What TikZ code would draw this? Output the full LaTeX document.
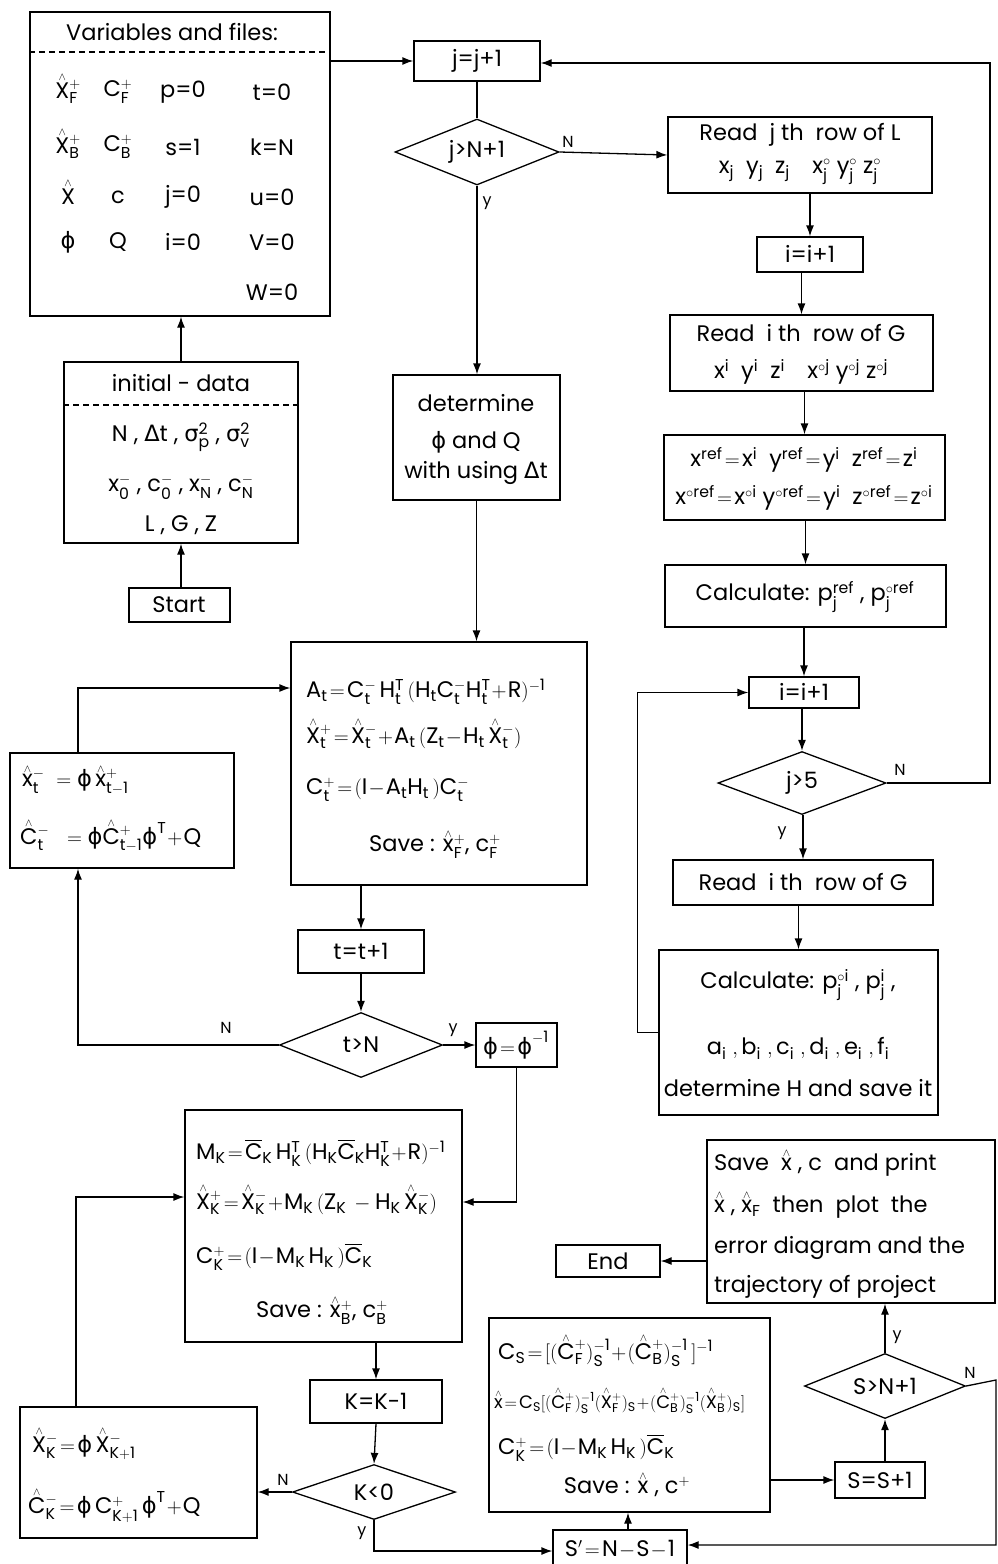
\documentclass[tikz,border=0pt]{standalone}
\usepackage{amsmath}
\usepackage{fontspec}
\setmainfont{Poppins}
\setsansfont{Poppins}
\newfontfamily\dv{DejaVu Sans}
\usetikzlibrary{shapes.geometric,arrows.meta,fit}
\newcommand\mm[1]{$\mathrm{#1}$}
\newcommand\ph{\mbox{\dv ϕ}}
\newcommand\Dt{{\dv Δ}t}
\newcommand\sg{\mbox{\dv σ}}
\newcommand\hh[1]{\mbox{\ooalign{#1\cr\hidewidth\smash{\raisebox{0.8em}{$\scriptscriptstyle\wedge$}}\hidewidth\cr}}}
\newcommand\hl[1]{\mbox{\ooalign{#1\cr\hidewidth\smash{\raisebox{0.62em}{$\scriptscriptstyle\wedge$}}\hidewidth\cr}}}
\newcommand\bb[1]{{\overline{#1}}}
\newcommand\vto[2]{\draw[arr] (#2.north |- #1.south) -- (#2.north);}
\tikzset{
  bx/.style={draw, line width=1.3pt, inner sep=0pt},
  dia/.style={draw, diamond, line width=1.3pt, inner sep=0pt},
  txt/.style={inner sep=0pt},
  lab/.style={inner sep=0pt, font=\fontsize{16}{18}\selectfont},
  arr/.style={-{Latex[length=11pt,width=8pt]}, line width=1.3pt},
  ln/.style={line width=1.3pt},
  dsh/.style={line width=1.3pt, dash pattern=on 6pt off 4pt},
}
\begin{document}
\begin{tikzpicture}[x=1pt,y=-1pt,font=\fontsize{22.5}{26}\selectfont]
\useasboundingbox (0,0) rectangle (997,1564);
% ---------- variables box
\node[bx, fit={(30,12) (330,316)}] (var) {};
\node[txt] (vt) at (172,32) {Variables and files:};
\draw[dsh] (var.west |- 0,52) -- (var.east |- 0,52);
\node[txt] (v11) at (68,92) {\mm{\hh{X}^{+}_{F}}};
\node[txt] (v12) at (118,92) {\mm{C^{+}_{F}}};
\node[txt] (v13) at (183,92) {p=0};
\node[txt] (v14) at (272,92) {t=0};
\node[txt] (v21) at (68,147) {\mm{\hh{X}^{+}_{B}}};
\node[txt] (v22) at (118,147) {\mm{C^{+}_{B}}};
\node[txt] (v23) at (183,147) {s=1};
\node[txt] (v24) at (272,147) {k=N};
\node[txt] (v31) at (68,197) {\mm{\hh{X}}};
\node[txt] (v32) at (118,197) {c};
\node[txt] (v33) at (183,197) {j=0};
\node[txt] (v34) at (272,197) {u=0};
\node[txt] (v41) at (68,242) {\ph};
\node[txt] (v42) at (118,242) {Q};
\node[txt] (v43) at (183,242) {i=0};
\node[txt] (v44) at (272,242) {V=0};
\node[txt] (v54) at (272,292) {W=0};
% ---------- initial data
\node[bx, fit={(64,362) (298,543)}] (ini) {};
\node[txt] (it) at (181,383) {initial - data};
\draw[dsh] (ini.west |- 0,405) -- (ini.east |- 0,405);
\node[txt] (i1t) at (181,437) {N , \Dt\ , \mm{\sg^{2}_{p}}\ , \mm{\sg^{2}_{v}}};
\node[txt] (i2t) at (181,487) {\mm{x^{-}_{0}} , \mm{c^{-}_{0}} , \mm{x^{-}_{N}} , \mm{c^{-}_{N}}};
\node[txt] (i3t) at (181,525) {L , G , Z};
\node[bx, fit={(129,588) (230,622)}] (start) {};
\node[txt] (stt) at (179,605) {Start};
% ---------- middle column
\node[bx, fit={(414,41) (540,81)}] (jb) {};
\node[txt] (jbt) at (477,61) {j=j+1};
\node[dia, minimum width=164pt, minimum height=66pt, aspect=2.5] (dj) at (477,152) {j>N+1};
\node[bx, fit={(393,375) (560,500)}] (det) {};
\node[txt] (d1) at (476,403) {determine};
\node[txt] (d2) at (476,442) {\ph\ and Q};
\node[txt] (d3) at (476,473) {with using \Dt};
% ---------- forward filter box
\node[bx, fit={(291,642) (587,885)}] (A) {};
\node[txt, anchor=west] (a1) at (306,692) {\mm{A_t\!=\!C^{-}_{t}\,H^{T}_{t}\,(H_tC^{-}_{t}H^{T}_{t}\!+\!R)^{-1}}};
\node[txt, anchor=west] (a2) at (306,737) {\mm{\hh{X}^{+}_{t}\!=\!\hh{X}^{-}_{t}\!+\!A_t\,(Z_t\!-\!H_t\,\hh{X}^{-}_{t})}};
\node[txt, anchor=west] (a3) at (306,790) {\mm{C^{+}_{t}\!=\!(I\!-\!A_tH_t\,)C^{-}_{t}}};
\node[txt] (a4) at (435,847) {Save : \mm{\hl{x}^{+}_{F}}, \mm{c^{+}_{F}}};
\node[bx, fit={(10,753) (234,868)}] (pl) {};
\node[txt, anchor=west] (p1) at (22,782) {\mm{\hl{x}^{-}_{t}\ =\ph\,\hl{x}^{+}_{t-1}}};
\node[txt, anchor=west] (p2) at (20,837) {\mm{\hh{C}^{-}_{t}\ \ =\ph\hh{C}^{+}_{t-1}\ph^{T}\!+\!Q}};
\node[bx, fit={(298,930) (424,973)}] (tb) {};
\node[txt] (tbt) at (361,951) {t=t+1};
\node[dia, minimum width=163pt, minimum height=65pt, aspect=2.5] (dt) at (361,1045) {t>N};
\node[bx, fit={(476,1023) (557,1067)}] (phb) {};
\node[txt] (phbt) at (516,1045) {\mm{\ph\!=\!\ph^{-1}}};
% ---------- backward filter
\node[bx, fit={(185,1110) (462,1342)}] (M) {};
\node[txt, anchor=west] (m1) at (196,1153) {\mm{M_K\!=\!\bb{C}_K\,H^{T}_{K}\,(H_K\bb{C}_KH^{T}_{K}\!+\!R)^{-1}}};
\node[txt, anchor=west] (m2) at (196,1203) {\mm{\hh{X}^{+}_{K}\!=\!\hh{X}^{-}_{K}\!+\!M_K\,(Z_K\,-H_K\,\hh{X}^{-}_{K})}};
\node[txt, anchor=west] (m3) at (196,1257) {\mm{C^{+}_{K}\!=\!(I\!-\!M_K\,H_K\,)\bb{C}_K}};
\node[txt] (m4) at (322,1313) {Save : \mm{\hl{x}^{+}_{B}}, \mm{c^{+}_{B}}};
\node[bx, fit={(310,1380) (442,1423)}] (kb) {};
\node[txt] (kbt) at (376,1401) {K=K-1};
\node[dia, minimum width=163pt, minimum height=55pt, aspect=2.96] (dk) at (374,1492) {K<0};
\node[bx, fit={(20,1407) (257,1538)}] (bk) {};
\node[txt, anchor=west] (b1) at (32,1447) {\mm{\hh{X}^{-}_{K}\!=\!\ph\,\hh{X}^{-}_{K+1}}};
\node[txt, anchor=west] (b2) at (28,1507) {\mm{\hh{C}^{-}_{K}\!=\!\ph\,C^{+}_{K+1}\,\ph^{T}\!+\!Q}};
% ---------- smoothing
\node[bx, fit={(553,1530) (687,1572)}] (sp) {};
\node[txt] (spt) at (620,1549) {\mm{S'\!=\!N\!-\!S\!-\!1}};
\node[bx, fit={(489,1318) (770,1512)}] (cs) {};
\node[txt, anchor=west] (c1) at (498,1353) {\mm{C_S\!=\![(\hh{C}^{+}_{F})^{-1}_{S}\!+\!(\hh{C}^{+}_{B})^{-1}_{S}\,]^{-1}}};
\node[txt, anchor=west, font=\fontsize{18}{21}\selectfont] (c2) at (494,1403) {\mm{\hl{x}\!=\!C_S[(\hh{C}^{+}_{F})^{-1}_{S}(\hh{X}^{+}_{F})_S\!+\!(\hh{C}^{+}_{B})^{-1}_{S}(\hh{X}^{+}_{B})_S]}};
\node[txt, anchor=west] (c3) at (498,1448) {\mm{C^{+}_{K}\!=\!(I\!-\!M_K\,H_K\,)\bb{C}_K}};
\node[txt] (c4) at (627,1487) {Save : \mm{\hl{x}} , \mm{c^{+}}};
\node[bx, fit={(835,1462) (925,1498)}] (sb) {};
\node[txt] (sbt) at (880,1480) {S=S+1};
\node[dia, minimum width=161pt, minimum height=65pt, aspect=2.48] (ds) at (885,1386) {S>N+1};
\node[bx, fit={(707,1140) (995,1303)}] (sv) {};
\node[txt, anchor=west] (s1) at (714,1165) {Save\ \ \mm{\hl{x}} , c\ \ and print};
\node[txt, anchor=west] (s2) at (714,1207) {\mm{\hl{x}} , \mm{\hl{x}_{F}}\ \ then\ \ plot\ \ the};
\node[txt, anchor=west] (s3) at (714,1248) {error diagram and the};
\node[txt, anchor=west] (s4) at (714,1287) {trajectory of project};
\node[bx, fit={(556,1245) (660,1277)}] (en) {};
\node[txt] (ent) at (608,1261) {End};
% ---------- right column
\node[bx, fit={(668,117) (932,193)}] (rl) {};
\node[txt] (rl1) at (800,135) {Read\ \ j th\ \ row of L};
\node[txt] (rl2) at (800,172) {\mm{x_j\ \ y_j\ \ z_j\quad x^{\circ}_{j}\ y^{\circ}_{j}\ z^{\circ}_{j}}};
\node[bx, fit={(757,237) (863,272)}] (ia) {};
\node[txt] (iat) at (810,254) {i=i+1};
\node[bx, fit={(670,315) (933,391)}] (rg) {};
\node[txt] (rg1) at (801,333) {Read\ \ i th\ \ row of G};
\node[txt] (rg2) at (801,372) {\mm{x^{i}\ \ y^{i}\ \ z^{i}\quad x^{\circ j}\ y^{\circ j}\ z^{\circ j}}};
\node[bx, fit={(664,435) (945,520)}] (xr) {};
\node[txt] (xr1) at (804,460) {\mm{x^{ref}\!=\!x^{i}\ \ y^{ref}\!=\!y^{i}\ \ z^{ref}\!=\!z^{i}}};
\node[txt] (xr2) at (804,498) {\mm{x^{\circ ref}\!=\!x^{\circ i}\ y^{\circ ref}\!=\!y^{i}\ \ z^{\circ ref}\!=\!z^{\circ i}}};
\node[bx, fit={(665,565) (946,627)}] (ca) {};
\node[txt] (cat) at (805,597) {Calculate: \mm{p^{ref}_{j}} , \mm{p^{\circ ref}_{j}}};
\node[bx, fit={(749,677) (859,708)}] (ib) {};
\node[txt] (ibt) at (804,692) {i=i+1};
\node[dia, minimum width=168pt, minimum height=63pt, aspect=2.67] (d5) at (802,783) {j>5};
\node[bx, fit={(673,860) (933,905)}] (rg3) {};
\node[txt] (rg3t) at (803,882) {Read\ \ i th\ \ row of G};
\node[bx, fit={(659,950) (938,1115)}] (cb) {};
\node[txt] (cb1) at (798,985) {Calculate: \mm{p^{\circ i}_{j}}\ , \mm{p^{i}_{j}}\ ,};
\node[txt] (cb2) at (798,1048) {\mm{a_i\ ,b_i\ ,c_i\ ,d_i\ ,e_i\ ,f_i}};
\node[txt] (cb3) at (798,1088) {determine H and save it};
% ---------- connectors
\draw[arr] (start.north -| ini.south) -- (ini.south);
\draw[arr] (ini.north) -- (ini.north |- var.south);
\draw[arr] (var.east |- jb.west) -- (jb.west);
\draw[ln] (jb.south) -- (dj.north);
\draw[arr] (dj.south) -- (dj.south |- det.north);
\node[lab] (ly1) at (487,203) {y};
\draw[arr] (dj.east) -- (rl.west);
\node[lab] (ln1) at (568,142) {N};
\vto{rl}{ia}
\vto{ia}{rg}
\vto{rg}{xr}
\vto{xr}{ca}
\vto{ca}{ib}
\vto{ib}{d5}
\vto{d5}{rg3}
\node[lab] (ly2) at (782,833) {y};
\vto{rg3}{cb}
\draw[arr] (cb.west) -- ++(-21,0) |- (ib.west);
\draw[arr] (d5.east) -| (990,63) -- (jb.east |- 0,63);
\node[lab] (ln2) at (900,770) {N};
\draw[arr] (det.south) -- (det.south |- A.north);
\draw[arr] (tb.north |- A.south) -- (tb.north);
\draw[arr] (tb.south) -- (dt.north);
\draw[arr] (dt.west) -| (pl.south -| 78,0);
\node[lab] (ln3) at (226,1028) {N};
\draw[arr] (pl.north -| 78,0) |- (A.west |- 0,688);
\draw[arr] (dt.east) -- (phb.west |- dt.east);
\node[lab] (ly3) at (453,1030) {y};
\draw[arr] (phb.south) |- (M.east |- 0,1202);
\draw[arr] (kb.north |- M.south) -- (kb.north);
\draw[arr] (kb.south) -- (dk.north);
\draw[arr] (dk.west) -- (bk.east |- dk.west);
\node[lab] (ln4) at (283,1480) {N};
\draw[arr] (bk.north -| 76,0) |- (M.west |- 0,1197);
\draw[arr] (dk.south) |- (sp.west);
\node[lab] (ly4) at (362,1533) {y};
\draw[arr] (sp.north -| 628,0) -- (cs.south -| 628,0);
\draw[arr] (cs.east |- sb.west) -- (sb.west);
\draw[arr] (sb.north -| ds.south) -- (ds.south);
\draw[arr] (ds.north) -- (ds.north |- sv.south);
\node[lab] (ly5) at (897,1337) {y};
\draw[arr] (ds.east) -- (996,1380) -- (996,1545) -- (sp.east |- 0,1545);
\node[lab] (ln5) at (970,1373) {N};
\draw[arr] (sv.west |- en.east) -- (en.east);
\end{tikzpicture}
\end{document}
